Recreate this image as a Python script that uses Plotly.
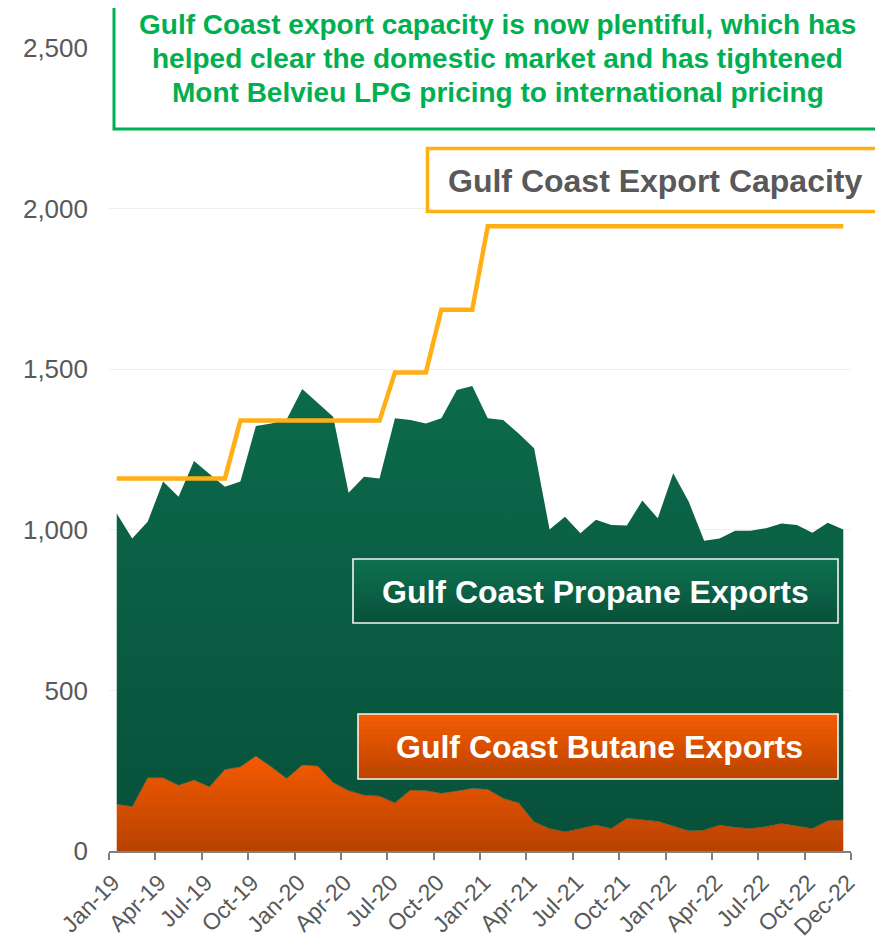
import plotly.graph_objects as go

# ---------------- data ----------------
months = ["Jan-19", "Feb-19", "Mar-19", "Apr-19", "May-19", "Jun-19", "Jul-19", "Aug-19", "Sep-19", "Oct-19", "Nov-19", "Dec-19",
          "Jan-20", "Feb-20", "Mar-20", "Apr-20", "May-20", "Jun-20", "Jul-20", "Aug-20", "Sep-20", "Oct-20", "Nov-20", "Dec-20",
          "Jan-21", "Feb-21", "Mar-21", "Apr-21", "May-21", "Jun-21", "Jul-21", "Aug-21", "Sep-21", "Oct-21", "Nov-21", "Dec-21",
          "Jan-22", "Feb-22", "Mar-22", "Apr-22", "May-22", "Jun-22", "Jul-22", "Aug-22", "Sep-22", "Oct-22", "Nov-22", "Dec-22"]

butane = [146, 138, 228, 228, 205, 221, 200, 254, 262, 296, 262, 226,
          268, 265, 213, 188, 174, 171, 150, 190, 188, 180, 187, 195,
          192, 164, 150, 91, 70, 60, 70, 81, 70, 102, 97, 93,
          78, 63, 65, 81, 74, 70, 76, 86, 78, 70, 94, 97]

propane = [905, 835, 797, 922, 898, 993, 974, 880, 888, 1027, 1069, 1118,
           1170, 1129, 1139, 927, 991, 989, 1197, 1152, 1143, 1167, 1248, 1253,
           1155, 1178, 1150, 1163, 931, 981, 919, 950, 945, 911, 994, 943,
           1098, 1025, 901, 892, 923, 927, 929, 934, 937, 921, 928, 904]

capacity = [1160, 1160, 1160, 1160, 1160, 1160, 1160, 1160, 1340, 1340, 1340, 1340,
            1340, 1340, 1340, 1340, 1340, 1340, 1490, 1490, 1490, 1685, 1685, 1685,
            1945, 1945, 1945, 1945, 1945, 1945, 1945, 1945, 1945, 1945, 1945, 1945,
            1945, 1945, 1945, 1945, 1945, 1945, 1945, 1945, 1945, 1945, 1945, 1945]

tick_labels = ["Jan-19", "Apr-19", "Jul-19", "Oct-19", "Jan-20", "Apr-20", "Jul-20", "Oct-20",
               "Jan-21", "Apr-21", "Jul-21", "Oct-21", "Jan-22", "Apr-22", "Jul-22", "Oct-22", "Dec-22"]

y_ticks = [0, 500, 1000, 1500, 2000, 2500]

title_lines = ["Gulf Coast export capacity is now plentiful, which has",
               "helped clear the domestic market and has tightened",
               "Mont Belvieu LPG pricing to international pricing"]

# ---------------- figure ----------------
FONT = "Arial, 'Liberation Sans', sans-serif"
OFF = 8  # page body margin
W, H = 883 - OFF, 943 - OFF
PL, PR, PT, PB = 109, 851, 48, 851  # plot area in page pixels
ML, MT = PL - OFF, PT - OFF
MR, MB = W - (PR - OFF), H - (PB - OFF)
PW, PH = PR - PL, PB - PT

def px(x):
    return (x - PL) / PW

def py(y):
    return (PB - y) / PH

xs = list(range(len(months)))
fig = go.Figure()

fig.add_trace(go.Scatter(
    x=xs, y=butane, name="Gulf Coast Butane Exports", stackgroup="one", mode="lines",
    line=dict(width=0.8, color="rgba(40,80,50,0.7)"),
    fillgradient=dict(type="vertical", start=0, stop=300,
                      colorscale=[[0, "#B84200"], [1, "#F55B00"]]),
    hovertext=months, hoverinfo="text+y"))

fig.add_trace(go.Scatter(
    x=xs, y=propane, name="Gulf Coast Propane Exports", stackgroup="one", mode="lines",
    line=dict(width=0),
    fillgradient=dict(type="vertical", start=0, stop=1450,
                      colorscale=[[0, "#07503A"], [1, "#0C6A4B"]]),
    hovertext=months, hoverinfo="text+y"))

fig.add_trace(go.Scatter(
    x=xs, y=capacity, name="Gulf Coast Export Capacity", mode="lines",
    line=dict(width=4.5, color="#FFAF14"),
    hovertext=months, hoverinfo="text+y"))

shapes = []

def grad_box(x0, x1, y0, y1, top, bottom, n=24):
    def hx(c):
        return [int(c[i:i + 2], 16) for i in (1, 3, 5)]
    t, b = hx(top), hx(bottom)
    hgt = (y1 - y0) / n
    for i in range(n):
        f = i / (n - 1)
        c = [round(t[k] + (b[k] - t[k]) * f) for k in range(3)]
        shapes.append(dict(type="rect", xref="paper", yref="paper",
                           x0=px(x0), x1=px(x1), y0=py(y0 + i * hgt), y1=py(y0 + (i + 1) * hgt + 0.6),
                           fillcolor="rgb(%d,%d,%d)" % tuple(c), line=dict(width=0), layer="above"))
    shapes.append(dict(type="rect", xref="paper", yref="paper",
                       x0=px(x0), x1=px(x1), y0=py(y0), y1=py(y1),
                       line=dict(color="#F4F4F4", width=1.6), layer="above"))

# annotation boxes
shapes.append(dict(type="rect", xref="paper", yref="paper", x0=px(114), x1=px(881), y0=py(-6), y1=py(129),
                   fillcolor="white", line=dict(color="#00B050", width=3), layer="above"))
shapes.append(dict(type="rect", xref="paper", yref="paper", x0=px(427.5), x1=px(881.5), y0=py(148.5), y1=py(211.5),
                   fillcolor="white", line=dict(color="#FFB012", width=3.5), layer="above"))
grad_box(353, 838, 559, 623, "#0E7050", "#08523A")
grad_box(358, 838, 714, 779, "#F65C00", "#BC4400")

annotations = []
for line, yc in zip(title_lines, [24, 58, 92]):
    annotations.append(dict(xref="paper", yref="paper", x=px(497.5), y=py(yc), text="<b>%s</b>" % line,
                            showarrow=False, xanchor="center", yanchor="middle", borderpad=0,
                            font=dict(family=FONT, size=28, color="#00B050")))
annotations.append(dict(xref="paper", yref="paper", x=px(655.5), y=py(181), text="<b>Gulf Coast Export Capacity</b>",
                        showarrow=False, xanchor="center", yanchor="middle",
                        font=dict(family=FONT, size=32, color="#595959")))
annotations.append(dict(xref="paper", yref="paper", x=px(595.5), y=py(592), text="<b>Gulf Coast Propane Exports</b>",
                        showarrow=False, xanchor="center", yanchor="middle",
                        font=dict(family=FONT, size=32, color="white")))
annotations.append(dict(xref="paper", yref="paper", x=px(599), y=py(747), text="<b>Gulf Coast Butane Exports</b>",
                        showarrow=False, xanchor="center", yanchor="middle",
                        font=dict(family=FONT, size=32, color="white")))

boundaries = [3 * k - 0.5 for k in range(16)] + [47.5]
label_pos = [3 * k - 0.25 for k in range(16)] + [47.3]

fig.update_layout(
    width=W, height=H, margin=dict(l=ML, r=MR, t=MT, b=MB, autoexpand=False),
    paper_bgcolor="white", plot_bgcolor="white", showlegend=False,
    font=dict(family=FONT, color="#595959"),
    shapes=shapes, annotations=annotations,
    xaxis=dict(range=[-0.5, 47.5], tickmode="array", tickvals=label_pos, ticktext=tick_labels,
               tickangle=-45, ticks="", showgrid=False, zeroline=False,
               showline=True, linecolor="#808080", linewidth=2, ticklabelstandoff=7,
               tickfont=dict(family=FONT, size=23, color="#595959"),
               minor=dict(tickmode="array", tickvals=boundaries, ticks="outside", ticklen=7,
                          tickcolor="#808080", tickwidth=2, showgrid=False)),
    yaxis=dict(range=[0, 2500], tickmode="array", tickvals=y_ticks, tickformat=",",
               showgrid=True, gridcolor="#F0F0F0", gridwidth=1, zeroline=False, showline=False,
               ticks="", ticklabelstandoff=20,
               tickfont=dict(family=FONT, size=26, color="#595959")),
)

fig.write_html("out.html")
